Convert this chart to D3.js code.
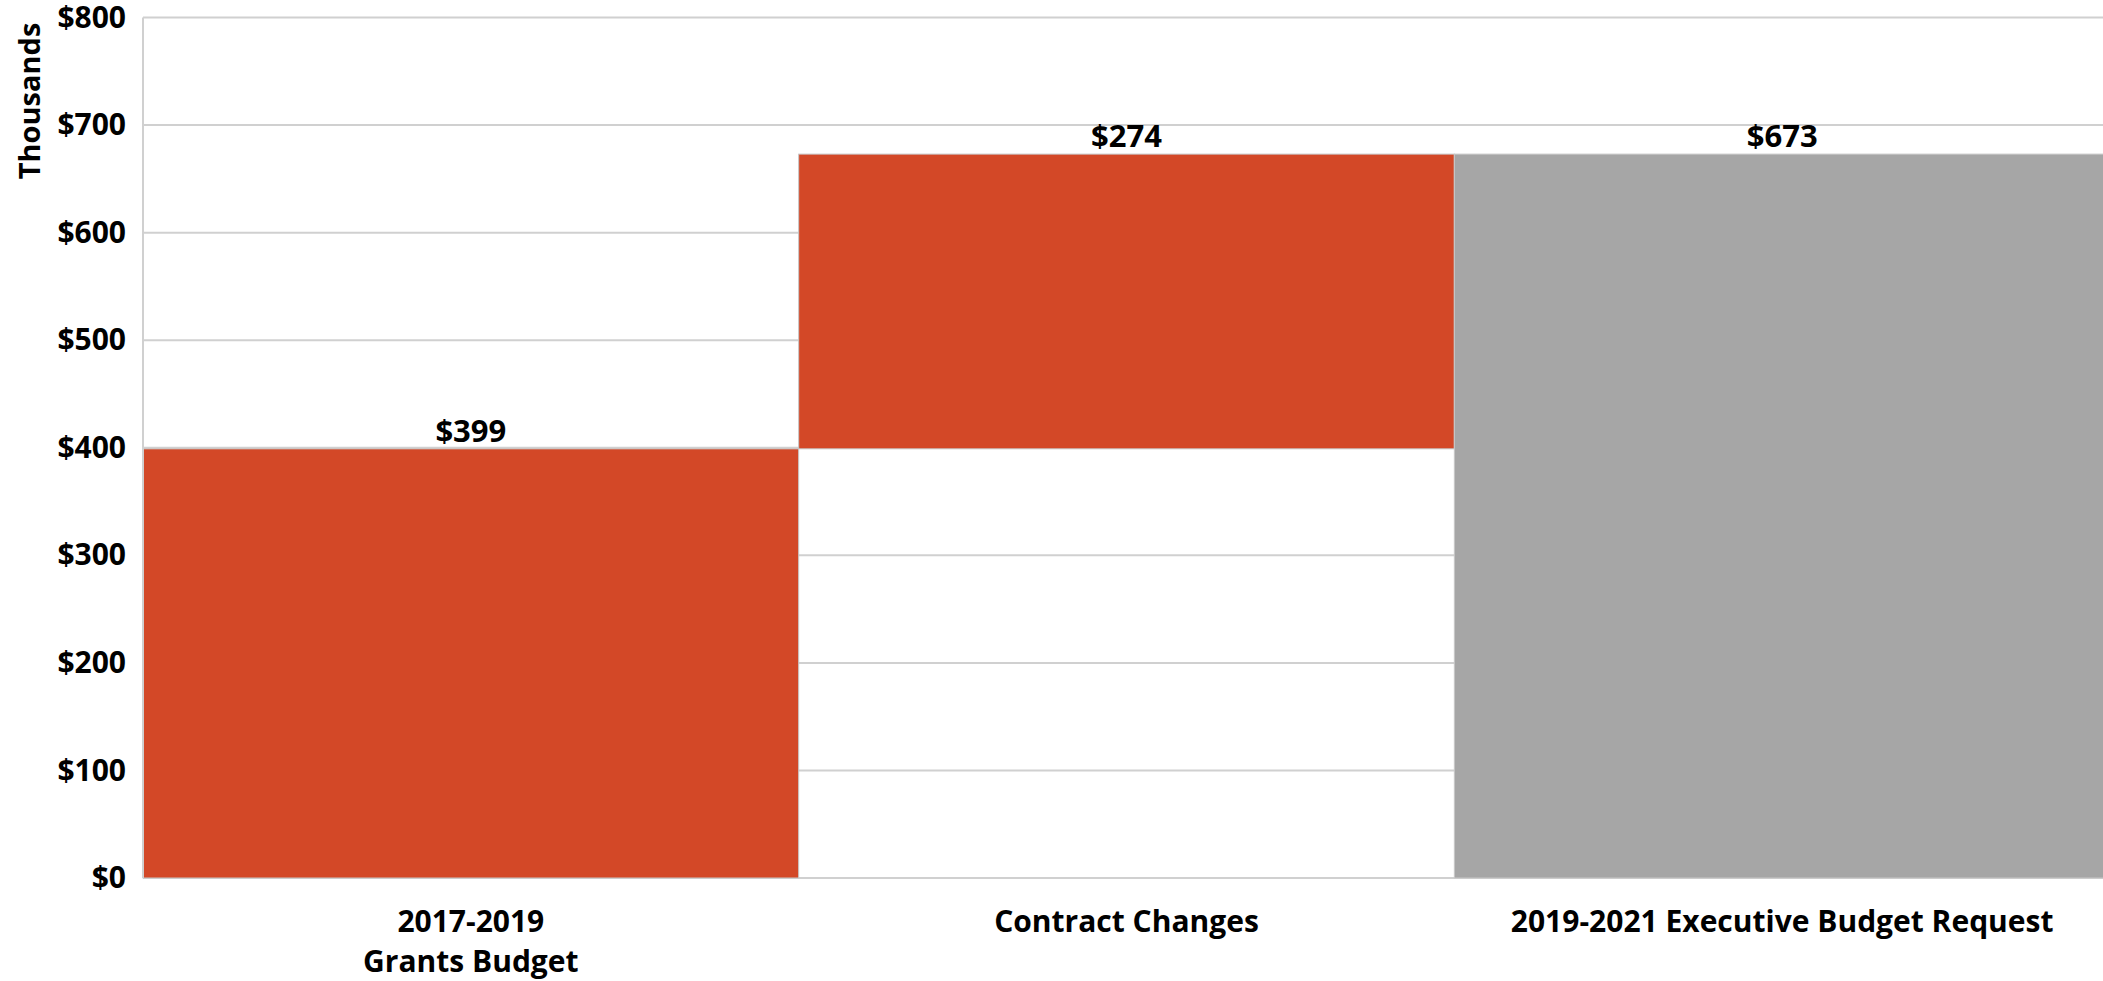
<!DOCTYPE html>
<html>
<head>
<meta charset="utf-8">
<script src="https://cdn.jsdelivr.net/npm/d3@7/dist/d3.min.js"></script>
<style>
  html, body { margin: 0; padding: 0; background: #fff; overflow: hidden; }
  text { font-family: "Open Sans", "Noto Sans", sans-serif; font-weight: 700; fill: #000; }
</style>
</head>
<body>
<div id="chart"></div>
<script>
// Data (thousands of dollars)
const categories = ['2017-2019\nGrants Budget', 'Contract Changes', '2019-2021 Executive Budget Request'];
const values = [399, 274, 673];
const kinds = ['start', 'delta', 'total'];
const yTicks = [0, 100, 200, 300, 400, 500, 600, 700, 800];

const W = 2103, H = 981;
const margin = { top: 17.5, left: 143, bottom: 103 };
const plotW = 1967; // plot runs a little past the right edge
const plotH = H - margin.top - margin.bottom;

const colors = { start: '#d34827', delta: '#d34827', total: '#a6a6a6' };

// Waterfall: running start/end for each bar
let running = 0;
const bars = categories.map((c, i) => {
  let y0, y1;
  if (kinds[i] === 'delta') { y0 = running; y1 = running + values[i]; }
  else { y0 = 0; y1 = values[i]; }
  running = y1;
  return { cat: c, value: values[i], kind: kinds[i], y0, y1 };
});

const svg = d3.select('#chart').append('svg')
  .attr('width', W)
  .attr('height', H);

const g = svg.append('g')
  .attr('transform', `translate(${margin.left},${margin.top})`);

const x = d3.scaleBand().domain(categories).range([0, plotW]).padding(0);
const y = d3.scaleLinear().domain([0, 800]).range([plotH, 0]);

// gridlines
g.append('g')
  .selectAll('line')
  .data(yTicks)
  .join('line')
  .attr('x1', 0).attr('x2', plotW)
  .attr('y1', d => y(d)).attr('y2', d => y(d))
  .attr('stroke', '#d0d0d0')
  .attr('stroke-width', 2);

// bars
g.append('g')
  .selectAll('rect')
  .data(bars)
  .join('rect')
  .attr('x', d => x(d.cat))
  .attr('width', x.bandwidth())
  .attr('y', d => y(d.y1))
  .attr('height', d => y(d.y0) - y(d.y1))
  .attr('fill', d => colors[d.kind])
  .attr('stroke', '#c8c8c8')
  .attr('stroke-width', 1);

// left axis line
g.append('line')
  .attr('x1', 0).attr('x2', 0)
  .attr('y1', 0).attr('y2', plotH)
  .attr('stroke', '#d0d0d0').attr('stroke-width', 2);

// y tick labels
const yAxis = d3.axisLeft(y).tickValues(yTicks).tickSize(0).tickPadding(17)
  .tickFormat(d => '$' + d);
g.append('g').call(yAxis)
  .call(a => a.select('.domain').remove())
  .selectAll('text')
  .style('font-size', '30px')
  .attr('font-family', null);

// y axis title
svg.append('text')
  .attr('transform', `translate(40,${101}) rotate(-90)`)
  .attr('text-anchor', 'middle')
  .style('font-size', '29px')
  .text('Thousands');

// value labels
g.append('g')
  .selectAll('text')
  .data(bars)
  .join('text')
  .attr('x', d => x(d.cat) + x.bandwidth() / 2)
  .attr('y', d => y(d.y1) - 7)
  .attr('text-anchor', 'middle')
  .style('font-size', '31px')
  .text(d => '$' + d.value);

// category labels
const xl = g.append('g')
  .selectAll('text')
  .data(bars)
  .join('text')
  .attr('x', d => x(d.cat) + x.bandwidth() / 2)
  .attr('y', plotH + 54)
  .attr('text-anchor', 'middle')
  .style('font-size', '30px');
xl.each(function(d) {
  const lines = d.cat.split('\n');
  d3.select(this).selectAll('tspan')
    .data(lines)
    .join('tspan')
    .attr('x', x(d.cat) + x.bandwidth() / 2)
    .attr('dy', (l, i) => i === 0 ? 0 : 40)
    .text(l => l);
});
</script>
</body>
</html>
